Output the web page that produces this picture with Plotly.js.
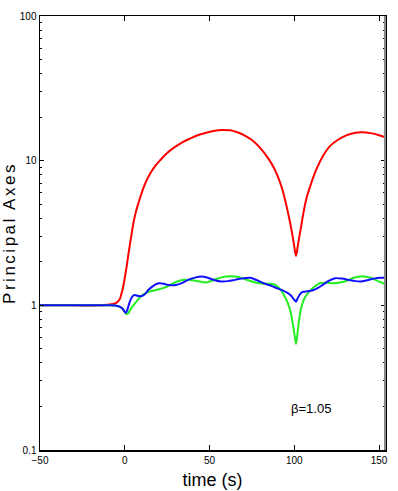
<!DOCTYPE html>
<html>
<head>
<meta charset="utf-8">
<script src="https://cdn.plot.ly/plotly-3.0.1.min.js"></script>
<style>html,body{margin:0;padding:0;background:#fff;}#chart{width:398px;height:491px;}
.ytitle{letter-spacing:2.5px;}</style>
</head>
<body>
<div id="chart"></div>
<script>
// Red principal axis
const redT = [-50,-30,-15,-10,-7,-5,-3,-2,-1,0,1,2,3,4,5,6.5,8,10,12,15,18,21,25,29,34,38.5,43,48,53,57,62,66,70,75,80,85,88,91,93,95,97,98,99,100,101,102,103,104,105,107,110,113,117,121,126,131,136,140,145,150,153.5];
const redV = [1.0,1.0,1.0,1.01,1.02,1.04,1.1,1.2,1.33,1.55,1.82,2.2,2.62,3.1,3.65,4.4,5.06,6.0,6.95,8.15,9.2,10.1,11.3,12.3,13.4,14.2,15.0,15.6,16.1,16.3,16.2,15.8,15.1,13.9,12.2,10.2,8.9,7.4,6.3,5.1,4.0,3.5,3.0,2.55,2.2,2.55,3.0,3.5,4.1,5.4,7.0,8.7,10.8,12.6,14.0,15.0,15.6,15.7,15.5,15.0,14.5];
// Green principal axis
const greenT = [-50,-10,-5,-3,-1,0,1,2,3,4,6,8,10,12,15,19,23,27,31,35,40,44,48,52,57,62,67,72,77,82,86,89,92,94,96,98,99,100,101,102,103,104,106,109,112,115,119,123,127,131,135,140,145,150,153.5];
const greenV = [1,1,0.995,0.98,0.94,0.9,0.87,0.88,0.92,0.96,1.03,1.1,1.17,1.21,1.25,1.28,1.32,1.39,1.46,1.5,1.49,1.46,1.44,1.49,1.56,1.59,1.57,1.5,1.44,1.41,1.41,1.38,1.28,1.17,1.05,0.88,0.76,0.64,0.54,0.66,0.82,0.95,1.12,1.25,1.35,1.42,1.43,1.42,1.44,1.48,1.55,1.59,1.55,1.46,1.41];
// Blue principal axis
const blueT = [-50,-10,-5,-3,-1,0,0.7,1.5,2.5,3.5,5,6,8,10,12,14,17,20,23,26,30,34,38,42,45,49,53,57,61,65,70,74,78,82,86,90,93,96,98,99.5,101,102,103.5,105,108,111,114,117,120,124,128,132,136,139,143,147,151,153.5];
const blueV = [1,1,0.995,0.98,0.94,0.9,0.89,0.93,1.02,1.1,1.17,1.18,1.16,1.16,1.2,1.28,1.37,1.42,1.41,1.38,1.38,1.43,1.51,1.56,1.58,1.55,1.49,1.46,1.47,1.5,1.54,1.55,1.49,1.42,1.37,1.31,1.27,1.22,1.17,1.11,1.06,1.12,1.2,1.24,1.25,1.27,1.32,1.39,1.47,1.54,1.53,1.5,1.47,1.46,1.49,1.53,1.55,1.55];

const xTicks = [-50,0,50,100,150];
const yTicks = [0.1,1,10,100];
const yTickText = ['0.1','1','10','100'];
const note = {x:110, y:0.195, text:'β=1.05'};

const minorY = [];
for (let d = -1; d < 2; d++) for (let k = 2; k <= 9; k++) minorY.push(k*Math.pow(10,d));

const tickFont = {family:'"Liberation Sans Narrow", "Arial Narrow", "Liberation Sans", Arial, sans-serif', size:10, color:'#000'};
const traces = [
  {x:redT, y:redV, mode:'lines', line:{color:'#ff0000', width:2, shape:'spline', smoothing:1}},
  {x:greenT, y:greenV, mode:'lines', line:{color:'#22ee22', width:2, shape:'spline', smoothing:0.8}},
  {x:blueT, y:blueV, mode:'lines', line:{color:'#1010ff', width:2, shape:'spline', smoothing:0.8}}
];
const layout = {
  width:398, height:491,
  margin:{l:40, r:13, t:16, b:41},
  paper_bgcolor:'#fff', plot_bgcolor:'#fff',
  showlegend:false,
  xaxis:{range:[-50,153.5], tickmode:'array', tickvals:xTicks, ticks:'inside', ticklen:5, tickcolor:'#000',
    mirror:'ticks', showline:true, linecolor:'#000', linewidth:1.5, showgrid:false, zeroline:false,
    tickfont:tickFont,
    title:{text:'time (s)', font:{family:'"Liberation Sans Narrow", "Liberation Sans", Arial, sans-serif', size:18, color:'#000'}, standoff:9}},
  yaxis:{type:'log', range:[-1,2], tickmode:'array', tickvals:yTicks, ticktext:yTickText, ticks:'inside', ticklen:4, tickcolor:'#000',
    minor:{tickmode:'array', tickvals:minorY, ticks:'inside', ticklen:2, tickcolor:'#000', showgrid:false},
    mirror:'ticks', showline:true, linecolor:'#000', linewidth:1.5, showgrid:false, zeroline:false,
    tickfont:tickFont,
    title:{text:'Principal Axes', font:{family:'"Liberation Sans", Arial, sans-serif', size:17, color:'#000'}, standoff:10}},
  annotations:[{x:note.x, y:Math.log10(note.y), xref:'x', yref:'y', text:note.text, showarrow:false,
    font:{family:'"Liberation Sans", Arial, sans-serif', size:13, color:'#000'}}],
  shapes:[{type:'line', xref:'paper', yref:'paper', x0:1, x1:1, y0:0, y1:1, line:{color:'#888', width:2}}]
};
Plotly.newPlot('chart', traces, layout, {displayModeBar:false, staticPlot:true});
</script>
</body>
</html>
